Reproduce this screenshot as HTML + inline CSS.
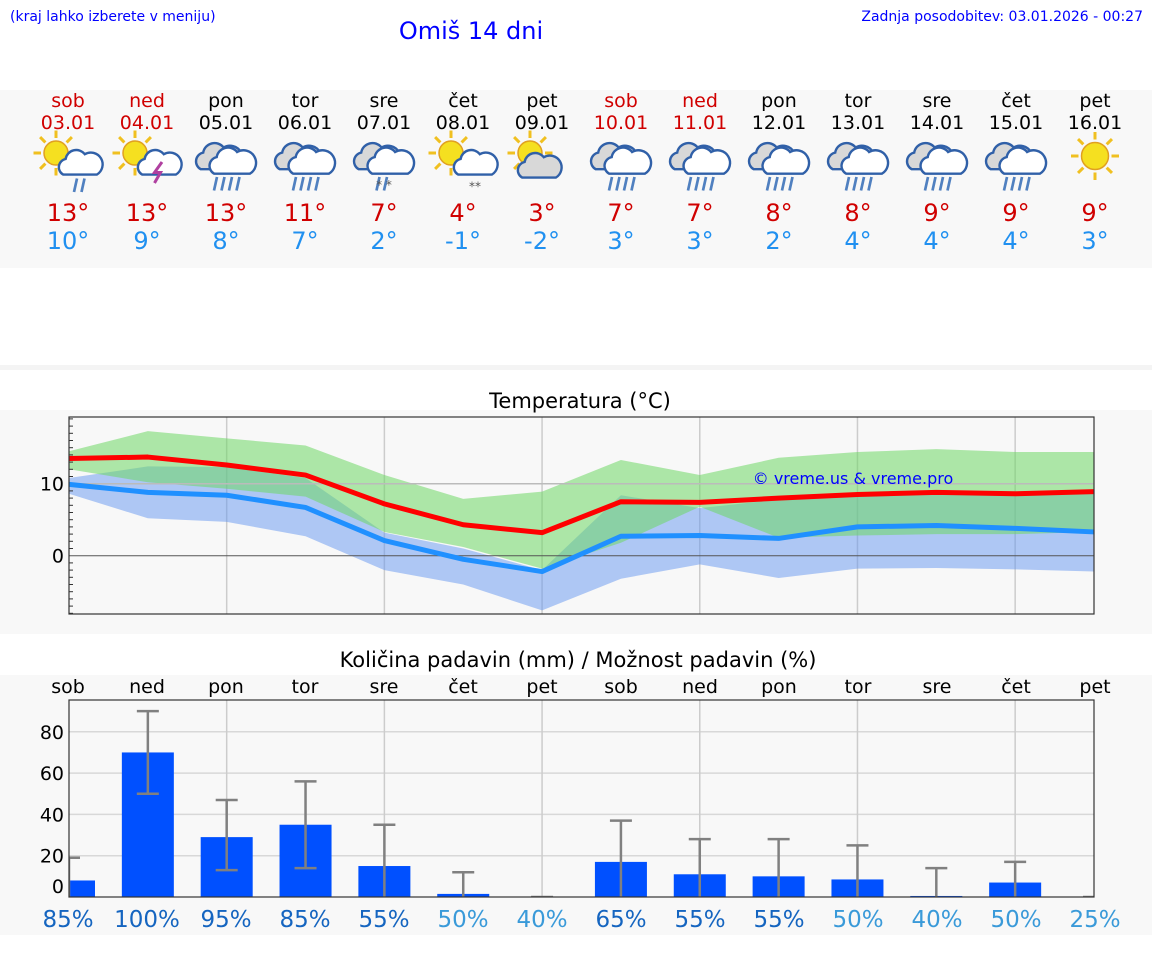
<!DOCTYPE html>
<html><head><meta charset="utf-8"><style>
body{margin:0;width:1152px;height:975px;background:#fff;font-family:"DejaVu Sans","Liberation Sans",sans-serif;overflow:hidden}
svg{display:block}
</style></head><body>
<svg id="c" width="1152" height="975" xmlns="http://www.w3.org/2000/svg" font-family="DejaVu Sans, Liberation Sans, sans-serif">
<text x="10" y="21" font-size="14" fill="#0000ff">(kraj lahko izberete v meniju)</text>
<text x="471" y="39" font-size="24" fill="#0000ff" text-anchor="middle">Omiš 14 dni</text>
<text x="1143" y="21" font-size="14" fill="#0000ff" text-anchor="end">Zadnja posodobitev: 03.01.2026 - 00:27</text>
<rect x="0" y="90" width="1152" height="178" fill="#f8f8f8"/>
<rect x="0" y="365" width="1152" height="5" fill="#f4f4f4"/>
<rect x="0" y="410" width="1152" height="224" fill="#f8f8f8"/>
<text x="580" y="408" font-size="21" text-anchor="middle" fill="#000">Temperatura (°C)</text>
<rect x="0" y="675" width="1152" height="260" fill="#f8f8f8"/>
<text x="578" y="667" font-size="21" text-anchor="middle" fill="#000">Količina padavin (mm) / Možnost padavin (%)</text>
<g id="hdr"></g><g id="temp"></g><g id="prec"></g>
</svg>
<script>
const days=["sob","ned","pon","tor","sre","čet","pet","sob","ned","pon","tor","sre","čet","pet"];
const dates=["03.01","04.01","05.01","06.01","07.01","08.01","09.01","10.01","11.01","12.01","13.01","14.01","15.01","16.01"];
const icons=["sunrain","sunstorm","rain","rain","rainsnow","sunsnow","suncloud","rain","rain","rain","rain","rain","rain","sun"];
const hiLabels=[13,13,13,11,7,4,3,7,7,8,8,9,9,9];
const loLabels=[10,9,8,7,2,-1,-2,3,3,2,4,4,4,3];
const tMax=[13.5,13.7,12.6,11.2,7.2,4.3,3.2,7.5,7.4,8.0,8.5,8.8,8.6,8.9];
const tMin=[9.9,8.8,8.4,6.7,2.1,-0.5,-2.2,2.7,2.8,2.4,4.0,4.2,3.8,3.3];
const tMaxHi=[14.5,17.3,16.3,15.3,11.2,7.9,8.9,13.3,11.2,13.6,14.4,14.8,14.4,14.4];
const tMaxLo=[12.0,10.2,9.3,8.2,3.3,1.2,-1.8,1.8,6.8,2.5,2.8,3.0,3.0,3.3];
const tMinHi=[10.8,12.4,12.3,10.8,3.2,1.0,-2.0,8.4,6.6,7.8,8.5,8.8,8.8,8.9];
const tMinLo=[8.6,5.2,4.7,2.7,-2.0,-4.0,-7.6,-3.2,-1.2,-3.1,-1.8,-1.7,-1.9,-2.2];
const tTicks=[0,10];
const rain=[8,70,29,35,15,1.5,0,17,11,10,8.5,0.5,7,0];
const rainLo=[0,50,13,14,0,0,0,0,0,0,0,0,0,0];
const rainHi=[19,90,47,56,35,12,0,37,28,28,25,14,17,0];
const prob=[85,100,95,85,55,50,40,65,55,55,50,40,50,25];
const pTicks=[0,20,40,60,80];
const NS="http://www.w3.org/2000/svg";
function mk(p,t,a){const e=document.createElementNS(NS,t);for(const k in a)e.setAttribute(k,a[k]);p.appendChild(e);return e;}
const xd=i=>69+i*(1094-69)/13;
const hdrX=i=>68+i*(1095-68)/13;
const H=document.getElementById('hdr');
function icon(g,type,cx,cy){
 const sun=(sx,sy,r)=>{for(let k=0;k<8;k++){const a=k*Math.PI/4;mk(g,'line',{x1:sx+Math.cos(a)*(r+2),y1:sy+Math.sin(a)*(r+2),x2:sx+Math.cos(a)*(r+7),y2:sy+Math.sin(a)*(r+7),stroke:'#f0c020','stroke-width':2});}
  mk(g,'circle',{cx:sx,cy:sy,r:r,fill:'#f5e020',stroke:'#e0a020','stroke-width':1});};
 const cloud=(x,y,s,grey)=>{mk(g,'path',{d:`M${x-14*s},${y+8*s} a${7*s},${7*s} 0 0 1 ${2*s},${-13*s} a${9*s},${9*s} 0 0 1 ${16*s},${-4*s} a${7*s},${7*s} 0 0 1 ${10*s},${17*s} z`,fill:grey?'#d8d8d8':'#fff',stroke:'#3060a8','stroke-width':1.6});};
 const drops=(x,y,n)=>{for(let k=0;k<n;k++)mk(g,'line',{x1:x+k*5,y1:y,x2:x+k*5-2,y2:y+9,stroke:'#5080c0','stroke-width':1.8});};
 if(type==='sun'){sun(cx,cy-2,9);return;}
 if(type.startsWith('sun')){sun(cx-8,cy-4,8);
  if(type==='suncloud'){cloud(cx-2,cy+6,0.8,true);return;}
  cloud(cx+8,cy+4,0.8,false);
  if(type==='sunrain')drops(cx+6,cy+13,2);
  if(type==='sunstorm')mk(g,'path',{d:`M${cx+10},${cy+2} l-5,7 h4 l-4,7`,stroke:'#b040a0','stroke-width':2,fill:'none'});
  if(type==='sunsnow')mk(g,'text',{x:cx+8,y:cy+21,'font-size':8,fill:'#555','text-anchor':'middle'}).textContent='**';
  return;}
 cloud(cx-5,cy,0.85,true);cloud(cx+4,cy+3,0.85,false);
 if(type==='rain')drops(cx-6,cy+12,4);
 if(type==='rainsnow'){drops(cx-3,cy+12,2);mk(g,'text',{x:cx,y:cy+20,'font-size':8,fill:'#555','text-anchor':'middle'}).textContent='* *';}
}
days.forEach((d,i)=>{
 const x=hdrX(i),we=(d==='sob'||d==='ned');
 const t=mk(H,'text',{x:x,y:107,'font-size':19,'text-anchor':'middle',fill:we?'#d00000':'#000'});t.textContent=d;
 
 
 const t2=mk(H,'text',{x:x,y:129,'font-size':19,'text-anchor':'middle',fill:we?'#d00000':'#000'});t2.textContent=dates[i];
 
 
 const g=mk(H,'g',{transform:`translate(${x},162) scale(1.5) translate(${-x},-162)`});
 
 
 icon(g,icons[i],x,160);
 const h=mk(H,'text',{x:x,y:221,'font-size':24,'text-anchor':'middle',fill:'#d00000'});h.textContent=hiLabels[i]+'°';
 
 
 const l=mk(H,'text',{x:x,y:249,'font-size':24,'text-anchor':'middle',fill:'#2090f0'});l.textContent=loLabels[i]+'°';
 
 
});
const T=document.getElementById('temp');
const L=69,R=1094,TT=417,TB=614;
const yt=v=>555.7-v*7.2;
mk(T,'rect',{x:L,y:TT,width:R-L,height:TB-TT,fill:'#f8f8f8'});
for(let i=2;i<14;i+=2)mk(T,'line',{x1:xd(i),y1:TT,x2:xd(i),y2:TB,stroke:'#ccc','stroke-width':1.5});
const band=(hi,lo,fill,name)=>{let d='M'+hi.map((v,i)=>xd(i)+','+yt(v)).join(' L')+' L'+lo.map((v,i)=>xd(i)+','+yt(v)).reverse().join(' L')+'Z';
 const p=mk(T,'path',{d:d,fill:fill});};
band(tMinHi,tMinLo,'rgba(100,150,240,0.5)','min-temp-range');
band(tMaxHi,tMaxLo,'rgba(110,215,100,0.55)','max-temp-range');
tTicks.forEach(v=>{mk(T,'line',{x1:L,y1:yt(v),x2:R,y2:yt(v),stroke:v===0?'#555':'#bbb','stroke-width':v===0?1:1.5});
 const t=mk(T,'text',{x:L-5,y:yt(v)+7,'font-size':19,'text-anchor':'end',fill:'#000'});t.textContent=v;
 });
for(let v=-8;v<=19;v++){if(v%10)mk(T,'line',{x1:L,y1:yt(v),x2:L+4,y2:yt(v),stroke:'#333','stroke-width':1});}
const line=(arr,col,name)=>{const p=mk(T,'polyline',{points:arr.map((v,i)=>xd(i)+','+yt(v)).join(' '),fill:'none',stroke:col,'stroke-width':5,'stroke-linejoin':'round'});};
line(tMin,'#2090ff','min-temp-line');
line(tMax,'#ff0000','max-temp-line');
mk(T,'rect',{x:L,y:TT,width:R-L,height:TB-TT,fill:'none',stroke:'#333','stroke-width':1.2});
const wm=mk(T,'text',{x:853,y:484,'font-size':16,'text-anchor':'middle',fill:'#0000ff'});wm.textContent='© vreme.us & vreme.pro';

const P=document.getElementById('prec');
const PT=700,PB=897;const yp=v=>PB-v*2.065;
mk(P,'rect',{x:L,y:PT,width:R-L,height:PB-PT,fill:'#f8f8f8'});
pTicks.forEach(v=>{if(v)mk(P,'line',{x1:L,y1:yp(v),x2:R,y2:yp(v),stroke:'#d8d8d8','stroke-width':1.5});
 const t=mk(P,'text',{x:64,y:(v?yp(v):886)+7,'font-size':19,'text-anchor':'end',fill:'#000'});t.textContent=v;
 });
for(let i=2;i<14;i+=2)mk(P,'line',{x1:xd(i),y1:PT,x2:xd(i),y2:PB,stroke:'#ccc','stroke-width':1.5});
days.forEach((d,i)=>{const t=mk(P,'text',{x:hdrX(i),y:693,'font-size':19,'text-anchor':'middle',fill:'#000'});t.textContent=d;
 });
mk(P,'clipPath',{id:'pc'}).appendChild(document.createElementNS(NS,'rect'));
const cr=P.querySelector('#pc rect');cr.setAttribute('x',L);cr.setAttribute('y',PT-10);cr.setAttribute('width',R-L);cr.setAttribute('height',PB-PT+10);
const bg=mk(P,'g',{'clip-path':'url(#pc)'});
rain.forEach((v,i)=>{const x=xd(i);
 const b=mk(bg,'rect',{x:x-26,y:yp(v),width:52,height:PB-yp(v),fill:'#0050ff'});
 
 const e=mk(bg,'g',{stroke:'#808080','stroke-width':2.5});
 
 mk(e,'line',{x1:x,y1:yp(rainHi[i]),x2:x,y2:yp(rainLo[i])});
 mk(e,'line',{x1:x-11,y1:yp(rainHi[i]),x2:x+11,y2:yp(rainHi[i])});
 if(rainLo[i]>0)mk(e,'line',{x1:x-11,y1:yp(rainLo[i]),x2:x+11,y2:yp(rainLo[i])});
 const t=mk(P,'text',{x:hdrX(i),y:927,'font-size':23,'text-anchor':'middle',fill:prob[i]>50?'#1565c0':'#3a9ad9'});t.textContent=prob[i]+'%';
 
});
mk(P,'rect',{x:L,y:PT,width:R-L,height:PB-PT,fill:'none',stroke:'#333','stroke-width':1.2});
</script>
</body></html>
